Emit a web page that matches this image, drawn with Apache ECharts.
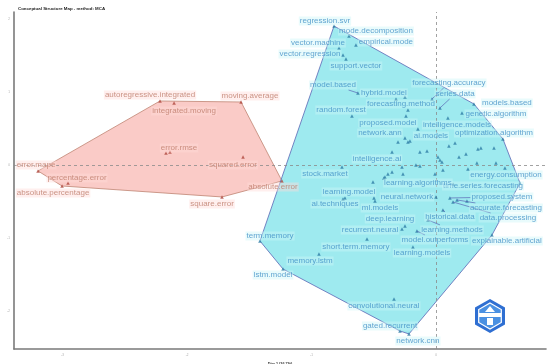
<!DOCTYPE html>
<html><head><meta charset="utf-8">
<script src="https://cdn.jsdelivr.net/npm/echarts@6/dist/echarts.min.js"></script>
<style>html,body{margin:0;padding:0;background:#fff}#c{width:550px;height:364px}</style>
</head><body><div id="c"></div>
<script>
// ---- Cluster 1 (red) ----
const redNames = ['autoregressive.integrated','integrated.moving','moving.average','error.rmse','squared.error','error.mape','percentage.error','absolute.percentage','square.error','absolute.error'];
const redX  = [-2.217,-2.104,-1.566,-2.169,-1.550,-3.197,-2.956,-3.004,-1.719,-1.237];
const redY  = [0.877,0.849,0.863,0.164,0.110,-0.082,-0.247,-0.288,-0.438,-0.219];
const redLabelX = [-2.297,-2.024,-1.494,-2.064,-1.631,-3.213,-2.884,-3.076,-1.799,-1.309];
const redLabelY = [0.959,0.740,0.945,0.233,0.0,0.0,-0.178,-0.384,-0.534,-0.301];
const redExtraX = [-2.137];
const redExtraY = [0.178];

// ---- Cluster 2 (cyan) ----
const cyanNames = ['regression.svr','mode.decomposition','vector.machine','empirical.mode','vector.regression','support.vector','model.based','hybrid.model','random.forest','forecasting.method','forecasting.accuracy','series.data','models.based','genetic.algorithm','proposed.model','intelligence.models','ai.models','network.ann','optimization.algorithm','intelligence.ai','energy.consumption','time.series.forecasting','proposed.system','accurate.forecasting','data.processing','historical.data','learning.methods','model.outperforms','learning.models','explainable.artificial','neural.network','learning.algorithms','stock.market','learning.model','ai.techniques','ml.models','deep.learning','recurrent.neural','short.term.memory','term.memory','memory.lstm','lstm.model','convolutional.neural','gated.recurrent','network.cnn'];
const cyanX = [-0.819,-0.699,-0.779,-0.643,-0.747,-0.723,-0.627,-0.321,-0.675,-0.225,-0.032,0.032,0.305,0.209,-0.241,0.096,-0.145,-0.305,0.538,-0.353,0.554,0.675,0.112,0.169,0.137,0.056,-0.064,-0.153,-0.185,0.450,0.000,-0.008,-0.755,-0.731,-0.747,-0.498,-0.249,-0.273,-0.554,-1.414,-0.940,-1.229,-0.337,-0.289,-0.217];
const cyanY = [1.904,1.767,1.603,1.644,1.507,1.452,0.986,0.904,0.671,0.753,0.904,0.781,0.836,0.712,0.671,0.644,0.493,0.315,0.356,0.178,-0.041,-0.247,-0.452,-0.479,-0.507,-0.616,-0.753,-0.904,-1.123,-0.959,-0.438,-0.123,-0.027,-0.452,-0.466,-0.452,-0.836,-0.877,-1.014,-1.041,-1.219,-1.425,-1.836,-2.274,-2.315];
const cyanLabelX = [-0.892,-0.482,-0.948,-0.402,-1.012,-0.643,-0.827,-0.418,-0.763,-0.281,0.104,0.153,0.570,0.482,-0.386,0.169,-0.040,-0.450,0.466,-0.474,0.562,0.378,0.530,0.562,0.578,0.112,0.129,-0.008,-0.112,0.570,-0.233,-0.145,-0.892,-0.699,-0.811,-0.450,-0.369,-0.530,-0.643,-1.333,-1.012,-1.309,-0.418,-0.369,-0.145];
const cyanLabelY = [1.973,1.836,1.671,1.685,1.521,1.356,1.096,0.986,0.753,0.836,1.123,0.973,0.849,0.699,0.575,0.548,0.397,0.438,0.438,0.082,-0.137,-0.288,-0.438,-0.589,-0.726,-0.712,-0.890,-1.027,-1.205,-1.041,-0.438,-0.247,-0.123,-0.370,-0.534,-0.589,-0.740,-0.890,-1.123,-0.973,-1.315,-1.507,-1.932,-2.205,-2.411];
const cyanExtraX = [-0.249,-0.225,-0.209,-0.129,-0.072,0.104,0.153,0.016,0.048,0.185,0.241,0.337,0.361,0.466,0.329,0.482,0.056,0.257,-0.161,-0.129,-0.273,-0.506,-0.410,-0.386,-0.353,-0.265,0.032,0.249,0.137,-0.249,-0.490,-0.418];
const cyanExtraY = [0.370,0.315,0.329,0.178,0.192,0.260,0.301,0.110,0.041,0.110,0.151,0.219,0.233,0.233,0.027,0.027,-0.068,-0.055,0.000,-0.014,-0.027,-0.233,-0.164,-0.123,-0.096,-0.123,0.068,-0.493,-0.260,0.932,-0.493,-0.178];
const connected = ['model.based','forecasting.accuracy','series.data','proposed.system','accurate.forecasting','data.processing','learning.methods','model.outperforms','historical.data','neural.network'];

// ---- Axes ----
const xTicks = [-3,-2,-1,0];
const yTicks = [-2,-1,0,1,2];
const xTitle = 'Dim 1 (26.7%)';
const yTitle = 'Dim 2 (14.6%)';
const chartTitle = 'Conceptual Structure Map - method: MCA';

const RED = {fill:'rgba(247,178,172,0.68)', stroke:'#bf8472', text:'#bd7a69', pt:'#b04a40', box:'rgba(255,218,216,0.55)'};
const CYAN = {fill:'rgba(120,226,233,0.72)', stroke:'#5a66b5', text:'#3f8fc6', pt:'#2f7ea6', box:'rgba(205,247,249,0.55)'};

function hull(pts){
  const p = pts.slice().sort((a,b)=>a[0]-b[0]||a[1]-b[1]);
  const cross=(o,a,b)=>(a[0]-o[0])*(b[1]-o[1])-(a[1]-o[1])*(b[0]-o[0]);
  const lo=[],up=[];
  for(const q of p){while(lo.length>=2&&cross(lo[lo.length-2],lo[lo.length-1],q)<=0)lo.pop();lo.push(q);}
  for(let i=p.length-1;i>=0;i--){const q=p[i];while(up.length>=2&&cross(up[up.length-2],up[up.length-1],q)<=0)up.pop();up.push(q);}
  up.pop();lo.pop();return lo.concat(up);
}
function hullSeries(xs,ys,ex,ey,c){
  return {type:'custom', z:1, silent:true, clip:false, data:[[0,0]],
    renderItem:(params,api)=>{
      const pts=[];
      xs.forEach((x,i)=>pts.push(api.coord([x,ys[i]])));
      ex.forEach((x,i)=>pts.push(api.coord([x,ey[i]])));
      return {type:'polygon', shape:{points:hull(pts)}, style:{fill:c.fill, stroke:c.stroke, lineWidth:0.8}};
    }};
}
function pointSeries(xs,ys,c){
  return {type:'scatter', z:4, silent:true, symbol:'triangle', symbolSize:3.6, itemStyle:{color:c.pt},
    data:xs.map((x,i)=>[x,ys[i]])};
}
function labelSeries(names,lx,ly,c){
  return {type:'scatter', z:6, silent:true, clip:false, symbolSize:0, itemStyle:{color:'rgba(0,0,0,0)'},
    data:names.map((n,i)=>({name:n,value:[lx[i],ly[i]]})),
    label:{show:true, position:'inside', formatter:'{b}', fontSize:8, fontFamily:'Liberation Sans, Arial, sans-serif',
      color:c.text, backgroundColor:c.box, padding:[1,1,0,1]}};
}
const connData = [];
connected.forEach(n=>{const i=cyanNames.indexOf(n); connData.push([cyanX[i],cyanY[i],cyanLabelX[i],cyanLabelY[i],n.length]);});

const option = {
  animation:false,
  title:{text:chartTitle, left:13, top:2, textStyle:{fontSize:4.4, fontWeight:'bold', color:'#222', fontFamily:'Liberation Sans, Arial'}},
  grid:{left:14, right:4, top:12, bottom:15, containLabel:false, outerBoundsMode:'none'},
  xAxis:{type:'value', min:-3.39, max:0.884,
    axisLine:{show:true, onZero:false, lineStyle:{color:'#7a7a7a', width:1.6}},
    axisTick:{show:false}, splitLine:{show:false},
    axisLabel:{customValues:xTicks, fontSize:3, color:'#aaa', margin:5},
    name:xTitle, nameLocation:'middle', nameGap:7,
    nameTextStyle:{fontSize:3.8, fontWeight:'bold', color:'#333'}},
  yAxis:{type:'value', min:-2.521, max:2.096,
    axisLine:{show:true, onZero:false, lineStyle:{color:'#7a7a7a', width:1.6}},
    axisTick:{show:false}, splitLine:{show:false},
    axisLabel:{customValues:yTicks, fontSize:3, color:'#aaa', margin:4},
    name:yTitle, nameLocation:'middle', nameGap:7, nameRotate:90,
    nameTextStyle:{fontSize:3.8, fontWeight:'bold', color:'#333'}},
  graphic:[{type:'group', x:490, y:316, z:10, children:[
    {type:'polygon', shape:{points:[[0,-17],[15,-8.5],[15,8.5],[0,17],[-15,8.5],[-15,-8.5]]}, style:{fill:'#2f6fd2'}},
    {type:'polygon', shape:{points:[[0,-13],[11.3,-6.5],[11.3,6.5],[0,13],[-11.3,6.5],[-11.3,-6.5]]}, style:{fill:'#4a90e2', stroke:'#fff', lineWidth:1.2}},
    {type:'rect', shape:{x:-11,y:-3,width:22,height:4}, style:{fill:'#fff'}},
    {type:'rect', shape:{x:-3,y:2,width:6,height:7}, style:{fill:'#fff'}},
    {type:'polygon', shape:{points:[[0,-10],[5,-4],[-5,-4]]}, style:{fill:'#fff'}}
  ]}],
  series:[
    hullSeries(redX,redY,redExtraX,redExtraY,RED),
    hullSeries(cyanX,cyanY,cyanExtraX,cyanExtraY,CYAN),
    Object.assign(pointSeries(redX.concat(redExtraX),redY.concat(redExtraY),RED),{
      markLine:{silent:true, symbol:'none', label:{show:false}, z:3,
        lineStyle:{type:[3,3], color:'#8a8a8a', width:0.8}, data:[{xAxis:0},{yAxis:0}]}}),
    pointSeries(cyanX.concat(cyanExtraX),cyanY.concat(cyanExtraY),CYAN),
    {type:'custom', z:5, silent:true, clip:false, data:connData,
      renderItem:(params,api)=>{
        const p=api.coord([api.value(0),api.value(1)]);
        const l=api.coord([api.value(2),api.value(3)]);
        const hw=api.value(4)*2.1, hh=5;
        const dx=p[0]-l[0], dy=p[1]-l[1];
        let t=1;
        if(Math.abs(dx)>1e-6) t=Math.min(t,hw/Math.abs(dx));
        if(Math.abs(dy)>1e-6) t=Math.min(t,hh/Math.abs(dy));
        const e=[l[0]+dx*t, l[1]+dy*t];
        return {type:'line', shape:{x1:e[0],y1:e[1],x2:p[0],y2:p[1]}, style:{stroke:CYAN.stroke, lineWidth:0.7}};
      }},
    labelSeries(redNames,redLabelX,redLabelY,RED),
    labelSeries(cyanNames,cyanLabelX,cyanLabelY,CYAN)
  ]
};
const chart = echarts.init(document.getElementById('c'), null, {renderer:'canvas'});
chart.setOption(option);
</script></body></html>
